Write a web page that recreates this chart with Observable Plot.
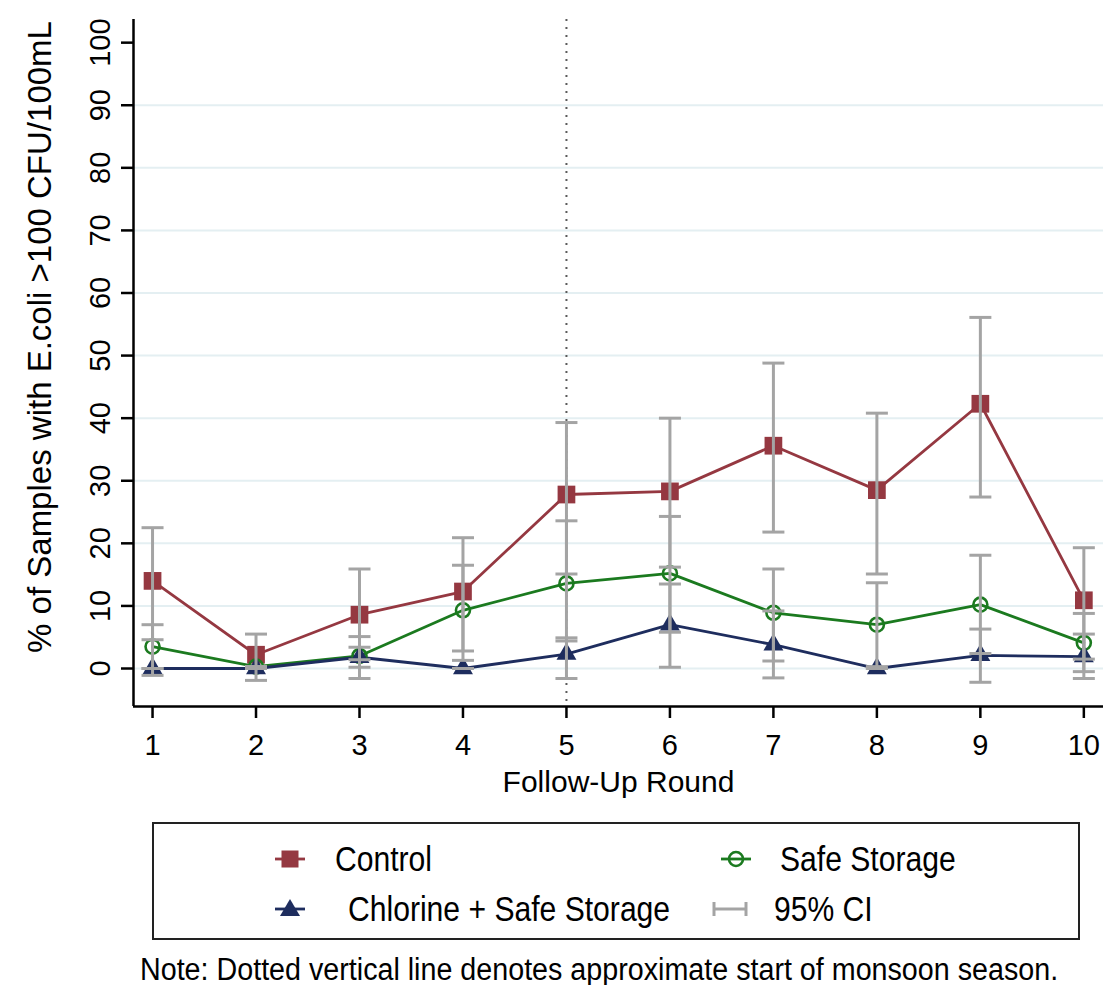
<!DOCTYPE html>
<html>
<head>
<meta charset="utf-8">
<script src="https://cdn.jsdelivr.net/npm/d3@7"></script>
<script src="https://cdn.jsdelivr.net/npm/@observablehq/plot@0.6"></script>
<style>
  body { margin: 0; background: #fff; }
  #wrap { position: relative; width: 1103px; height: 985px; font-family: "Liberation Sans", Arial, sans-serif; color: #000; }
  #legend { position: absolute; left: 152px; top: 822px; width: 924px; height: 114px; border: 2px solid #222; }
  .item { position: absolute; display: flex; align-items: center; height: 44px; font-size: 35px; white-space: nowrap; }
  .item svg { flex: none; }
  .item span { display: inline-block; transform: scaleX(0.86); transform-origin: left center; }
  #note { position: absolute; left: 140px; top: 952px; font-size: 31px; white-space: nowrap; transform: scaleX(0.925); transform-origin: left center; }
</style>
</head>
<body>
<div id="wrap">
  <div id="chart"></div>
  <div id="legend"></div>
  <div id="note"></div>
</div>
<script>
// ---- data ----
const rounds = [1, 2, 3, 4, 5, 6, 7, 8, 9, 10];

const controlName = "Control";
const controlValues = [14.0, 2.2, 8.6, 12.3, 27.8, 28.3, 35.6, 28.5, 42.3, 10.9];
const controlLow    = [4.6, -1.9, 1.4, 2.8, 15.1, 16.2, 21.8, 15.1, 27.4, 1.5];
const controlHigh   = [22.5, 5.5, 15.9, 20.9, 39.3, 40.0, 48.8, 40.8, 56.1, 19.3];

const safeName = "Safe Storage";
const safeValues = [3.5, 0.3, 2.0, 9.3, 13.6, 15.2, 8.9, 7.0, 10.2, 4.1];
const safeLow    = [-1.1, 0.3, -1.6, 1.3, 4.4, 5.8, 1.2, 0.3, 2.4, -0.5];
const safeHigh   = [7.0, 0.3, 5.1, 16.5, 23.6, 24.3, 15.9, 13.7, 18.1, 8.8];

const chlorName = "Chlorine + Safe Storage";
const chlorValues = [0, 0, 1.8, 0, 2.3, 7.0, 3.8, 0, 2.1, 1.9];
const chlorLow    = [0, 0, 0.2, 0, -1.6, 0.2, -1.5, 0, -2.2, -1.6];
const chlorHigh   = [0, 0, 3.4, 0, 4.9, 13.5, 9.2, 0, 6.3, 5.5];

const yTicks = [0, 10, 20, 30, 40, 50, 60, 70, 80, 90, 100];
const gridValues = [0, 10, 20, 30, 40, 50, 60, 70, 80, 90];
const monsoonRound = 5;

const yTitle = "% of Samples with E.coli >100 CFU/100mL";
const xTitle = "Follow-Up Round";
const ciLabel = "95% CI";
const noteText = "Note: Dotted vertical line denotes approximate start of monsoon season.";

// ---- styles ----
const colors = { [controlName]: "#953841", [safeName]: "#1b7a1f", [chlorName]: "#1e2d5e" };
const ciColor = "#a4a4a4";
const xDomain = [0.816, 10.19];
const yDomain = [-6.07, 103.7];

function makeRows(name, vals, lo, hi) {
  return rounds.map((r, i) => ({ series: name, round: r, value: vals[i], lo: lo[i], hi: hi[i] }));
}
const controlRows = makeRows(controlName, controlValues, controlLow, controlHigh);
const safeRows = makeRows(safeName, safeValues, safeLow, safeHigh);
const chlorRows = makeRows(chlorName, chlorValues, chlorLow, chlorHigh);
const allRows = [...controlRows, ...safeRows, ...chlorRows];

const capSymbol = { draw(ctx) { ctx.moveTo(-11, 0); ctx.lineTo(11, 0); } };

const chart = Plot.plot({
  width: 1103,
  height: 800,
  marginLeft: 133,
  marginRight: 0,
  marginTop: 19,
  marginBottom: 94,
  x: { type: "linear", domain: xDomain },
  y: { type: "linear", domain: yDomain },
  style: { fontFamily: "'Liberation Sans', Arial, sans-serif", background: "white" },
  marks: [
    Plot.ruleY(gridValues, { y: d => d, stroke: "#e4eff2", strokeWidth: 2 }),
    Plot.ruleX([monsoonRound], { x: d => d, stroke: "#5a5a5a", strokeWidth: 2, strokeDasharray: "2,6" }),
    // lines
    Plot.line(controlRows, { x: "round", y: "value", stroke: colors[controlName], strokeWidth: 2.8 }),
    Plot.line(safeRows, { x: "round", y: "value", stroke: colors[safeName], strokeWidth: 2.8 }),
    Plot.line(chlorRows, { x: "round", y: "value", stroke: colors[chlorName], strokeWidth: 2.8 }),
    // markers
    Plot.dot(controlRows, { x: "round", y: "value", symbol: "square", r: 10, fill: colors[controlName], stroke: "none" }),
    Plot.dot(safeRows, { x: "round", y: "value", symbol: "circle", r: 7, fill: "none", stroke: colors[safeName], strokeWidth: 2.6 }),
    Plot.dot(chlorRows, { x: "round", y: "value", symbol: "triangle", r: 7.4, fill: colors[chlorName], stroke: "none" }),
    // confidence intervals
    Plot.ruleX(allRows, { x: "round", y1: "lo", y2: "hi", stroke: ciColor, strokeWidth: 3 }),
    Plot.dot(allRows, { x: "round", y: "lo", symbol: capSymbol, fill: "none", stroke: ciColor, strokeWidth: 3 }),
    Plot.dot(allRows, { x: "round", y: "hi", symbol: capSymbol, fill: "none", stroke: ciColor, strokeWidth: 3 }),
    // axes
    Plot.axisY({ ticks: yTicks, tickSize: 12, tickFormat: () => "", label: null, stroke: "#000", strokeWidth: 2.5 }),
    Plot.axisX({ ticks: rounds, tickSize: 12, tickFormat: () => "", label: null, stroke: "#000", strokeWidth: 2.5 }),
    Plot.ruleX([xDomain[0]], { x: d => d, stroke: "#000", strokeWidth: 2.5 }),
    Plot.ruleY([yDomain[0]], { y: d => d, stroke: "#000", strokeWidth: 2.5 }),
    Plot.text(yTicks, { y: d => d, text: d => String(d), frameAnchor: "left", dx: -33, rotate: -90, fontSize: 29, fill: "#000", lineAnchor: "middle", textAnchor: "middle" }),
    Plot.text(rounds, { x: d => d, text: d => String(d), frameAnchor: "bottom", dy: 39, fontSize: 29, fill: "#000", lineAnchor: "middle" }),
    Plot.text([yTitle], { text: d => d, frameAnchor: "left", dx: -93, dy: -26, rotate: -90, fontSize: 33, fill: "#000", lineAnchor: "middle", textAnchor: "middle" }),
    Plot.text([xTitle], { text: d => d, frameAnchor: "bottom", dy: 76, fontSize: 30, fill: "#000", lineAnchor: "middle" })
  ]
});
document.getElementById("chart").appendChild(chart);

// ---- legend ----
const legend = document.getElementById("legend");
function markerSvg(kind, color) {
  const ns = "http://www.w3.org/2000/svg";
  const svg = document.createElementNS(ns, "svg");
  svg.setAttribute("width", 36); svg.setAttribute("height", 26);
  const g = (tag, attrs) => { const e = document.createElementNS(ns, tag); for (const k in attrs) e.setAttribute(k, attrs[k]); svg.appendChild(e); return e; };
  if (kind === "ci") {
    g("line", { x1: 2, y1: 13, x2: 34, y2: 13, stroke: color, "stroke-width": 3 });
    g("line", { x1: 2, y1: 6, x2: 2, y2: 20, stroke: color, "stroke-width": 3 });
    g("line", { x1: 34, y1: 6, x2: 34, y2: 20, stroke: color, "stroke-width": 3 });
  } else {
    g("line", { x1: 3, y1: 13, x2: 33, y2: 13, stroke: color, "stroke-width": 2.8 });
    if (kind === "square") g("rect", { x: 9.5, y: 4.5, width: 17, height: 17, fill: color });
    if (kind === "circle") g("circle", { cx: 18, cy: 13, r: 7, fill: "none", stroke: color, "stroke-width": 2.6 });
    if (kind === "triangle") g("path", { d: "M18,3 L28,20 L8,20 Z", fill: color });
  }
  return svg;
}
const legendItems = [
  { label: controlName, kind: "square", color: colors[controlName], left: 118, top: 13, gap: 27 },
  { label: safeName, kind: "circle", color: colors[safeName], left: 564, top: 13, gap: 26 },
  { label: chlorName, kind: "triangle", color: colors[chlorName], left: 118, top: 63, gap: 40 },
  { label: ciLabel, kind: "ci", color: ciColor, left: 558, top: 63, gap: 26 }
];
legendItems.forEach(it => {
  const d = document.createElement("div");
  d.className = "item";
  d.style.left = it.left + "px";
  d.style.top = it.top + "px";
  const m = markerSvg(it.kind, it.color);
  m.style.marginRight = it.gap + "px";
  d.appendChild(m);
  const s = document.createElement("span");
  s.textContent = it.label;
  d.appendChild(s);
  legend.appendChild(d);
});
document.getElementById("note").textContent = noteText;
</script>
</body>
</html>
